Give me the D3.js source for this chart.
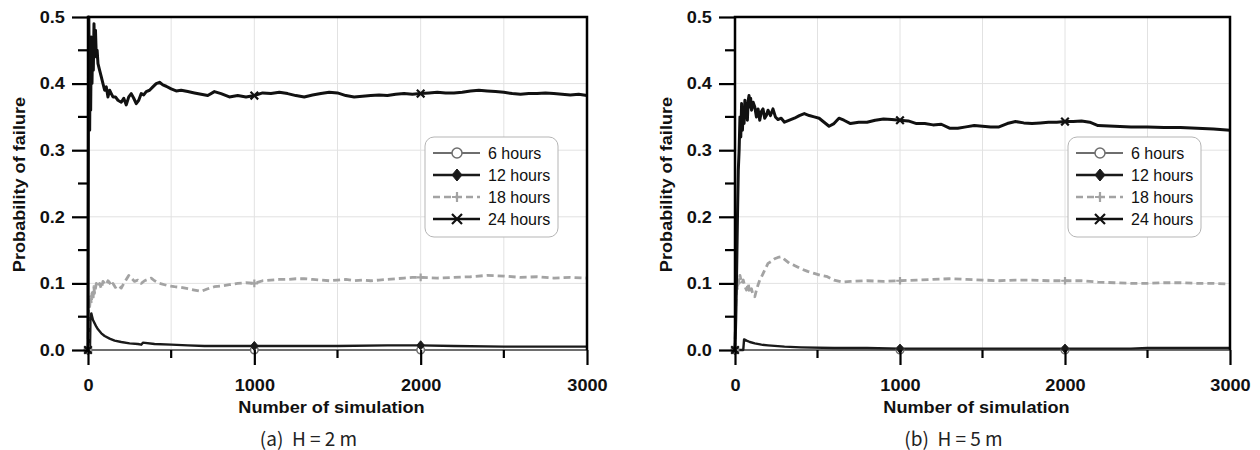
<!DOCTYPE html>
<html><head><meta charset="utf-8">
<script src="https://cdn.jsdelivr.net/npm/d3@7/dist/d3.min.js"></script>
<style>
html,body{margin:0;padding:0;background:#fff;}
svg{display:block;}
</style></head>
<body>
<svg id="chart" width="1260" height="450"></svg>
<script>
// ---------- DATA ----------
const xTicks = [0, 1000, 2000, 3000];
const xMinorTicks = [500, 1500, 2500];
const yTicks = [0, 0.1, 0.2, 0.3, 0.4, 0.5];
const yMinorTicks = [0.05, 0.15, 0.25, 0.35, 0.45];
const markerSims = [0, 1000, 2000];
const seriesNames = ["6 hours", "12 hours", "18 hours", "24 hours"];
const captions = ["(a)  H = 2 m", "(b)  H = 5 m"];

// Panel (a) H = 2 m : [simulation number, probability of failure]
const a6h = [[0,0],[1000,0],[2000,0],[3000,0]];
const a12h = [[0,0],[12,0],[15,0.05],[20,0.055],[25,0.05],[30,0.045],[40,0.04],[50,0.035],[60,0.031],[80,0.025],[100,0.021],[130,0.017],[160,0.014],[200,0.012],[250,0.01],[300,0.009],[320,0.008],[330,0.011],[400,0.009],[500,0.008],[600,0.007],[700,0.006],[800,0.006],[1000,0.006],[1200,0.006],[1500,0.006],[1800,0.007],[2000,0.007],[2200,0.006],[2500,0.005],[2800,0.005],[3000,0.005]];
const a18h = [[0,0],[3,0.05],[5,0.075],[10,0.065],[15,0.08],[20,0.07],[25,0.09],[30,0.075],[35,0.095],[40,0.085],[50,0.1],[60,0.095],[70,0.1],[80,0.092],[90,0.103],[100,0.1],[110,0.098],[120,0.104],[130,0.101],[140,0.096],[150,0.1],[165,0.094],[180,0.097],[200,0.093],[215,0.1],[230,0.106],[245,0.112],[260,0.108],[280,0.103],[300,0.105],[320,0.1],[340,0.104],[360,0.106],[380,0.108],[400,0.104],[430,0.1],[460,0.098],[490,0.096],[520,0.095],[560,0.094],[600,0.092],[640,0.09],[680,0.088],[720,0.092],[760,0.095],[800,0.096],[850,0.098],[900,0.1],[950,0.101],[1000,0.1],[1050,0.104],[1100,0.105],[1150,0.106],[1200,0.106],[1250,0.107],[1300,0.107],[1350,0.106],[1400,0.105],[1450,0.104],[1500,0.105],[1550,0.106],[1600,0.104],[1650,0.105],[1700,0.104],[1750,0.105],[1800,0.106],[1850,0.107],[1900,0.108],[1950,0.109],[2000,0.109],[2100,0.108],[2200,0.109],[2300,0.11],[2400,0.112],[2500,0.111],[2600,0.109],[2700,0.11],[2800,0.108],[2900,0.109],[3000,0.108]];
const a24h = [[0,0],[2,0.27],[3,0.42],[5,0.5],[8,0.4],[10,0.33],[13,0.45],[16,0.36],[20,0.47],[24,0.4],[28,0.46],[32,0.42],[36,0.49],[40,0.45],[45,0.48],[50,0.44],[55,0.45],[60,0.43],[70,0.42],[80,0.41],[90,0.4],[100,0.39],[110,0.395],[120,0.38],[130,0.39],[140,0.385],[150,0.38],[165,0.38],[180,0.375],[200,0.372],[215,0.378],[230,0.368],[245,0.38],[260,0.385],[275,0.378],[290,0.37],[305,0.375],[320,0.385],[335,0.383],[350,0.388],[370,0.39],[390,0.395],[410,0.4],[430,0.402],[450,0.398],[470,0.396],[500,0.392],[530,0.389],[560,0.39],[600,0.388],[640,0.386],[680,0.384],[720,0.382],[760,0.388],[800,0.385],[850,0.38],[900,0.382],[950,0.38],[1000,0.382],[1050,0.386],[1100,0.385],[1150,0.387],[1200,0.385],[1250,0.382],[1300,0.38],[1350,0.383],[1400,0.385],[1450,0.387],[1500,0.386],[1550,0.382],[1600,0.38],[1650,0.381],[1700,0.382],[1750,0.383],[1800,0.382],[1850,0.384],[1900,0.385],[1950,0.384],[2000,0.385],[2050,0.386],[2100,0.387],[2150,0.386],[2200,0.386],[2250,0.387],[2300,0.389],[2350,0.39],[2400,0.389],[2450,0.388],[2500,0.387],[2550,0.385],[2600,0.384],[2650,0.385],[2700,0.385],[2750,0.386],[2800,0.385],[2850,0.384],[2900,0.383],[2950,0.384],[3000,0.382]];

// Panel (b) H = 5 m
const b6h = [[0,0],[1000,0],[2000,0],[3000,0]];
const b12h = [[0,0],[50,0],[55,0.016],[70,0.014],[90,0.012],[120,0.01],[160,0.008],[200,0.007],[300,0.005],[400,0.004],[600,0.003],[800,0.003],[1000,0.002],[1500,0.002],[2000,0.002],[2400,0.002],[2500,0.003],[3000,0.003]];
const b18h = [[0,0],[3,0.045],[5,0.07],[10,0.1],[15,0.09],[20,0.11],[25,0.1],[30,0.112],[40,0.1],[50,0.105],[60,0.095],[70,0.09],[80,0.1],[90,0.085],[100,0.092],[110,0.082],[120,0.08],[130,0.09],[140,0.098],[150,0.105],[165,0.112],[180,0.12],[200,0.13],[220,0.133],[240,0.137],[260,0.139],[280,0.14],[300,0.136],[330,0.13],[360,0.127],[400,0.122],[440,0.118],[480,0.115],[520,0.112],[560,0.11],[600,0.105],[650,0.102],[700,0.103],[800,0.104],[900,0.103],[1000,0.104],[1100,0.105],[1200,0.106],[1300,0.107],[1400,0.106],[1500,0.105],[1600,0.104],[1700,0.105],[1800,0.105],[1900,0.104],[2000,0.104],[2100,0.104],[2200,0.102],[2300,0.101],[2400,0.1],[2500,0.1],[2600,0.101],[2700,0.101],[2800,0.1],[2900,0.1],[3000,0.099]];
const b24h = [[0,0],[5,0.05],[10,0.12],[15,0.2],[20,0.27],[25,0.3],[30,0.35],[35,0.32],[40,0.37],[45,0.33],[50,0.36],[55,0.34],[60,0.375],[65,0.35],[70,0.37],[75,0.345],[80,0.375],[85,0.382],[90,0.365],[95,0.378],[100,0.36],[110,0.372],[120,0.365],[130,0.35],[140,0.362],[150,0.345],[160,0.358],[170,0.362],[180,0.348],[190,0.352],[200,0.36],[215,0.352],[230,0.362],[245,0.35],[260,0.346],[280,0.348],[300,0.342],[330,0.345],[360,0.348],[390,0.352],[420,0.355],[450,0.352],[480,0.35],[510,0.348],[540,0.342],[570,0.336],[600,0.34],[630,0.348],[660,0.345],[700,0.34],[750,0.342],[800,0.342],[850,0.345],[900,0.347],[950,0.346],[1000,0.345],[1050,0.344],[1100,0.34],[1150,0.34],[1200,0.338],[1250,0.339],[1300,0.333],[1350,0.333],[1400,0.335],[1450,0.337],[1500,0.336],[1550,0.335],[1600,0.335],[1650,0.34],[1700,0.343],[1750,0.341],[1800,0.34],[1850,0.341],[1900,0.342],[1950,0.342],[2000,0.343],[2050,0.343],[2100,0.344],[2150,0.342],[2200,0.337],[2300,0.336],[2400,0.335],[2500,0.335],[2600,0.334],[2700,0.334],[2800,0.333],[2900,0.332],[3000,0.33]];

// ---------- DRAW ----------
const svg = d3.select("#chart");
const BOLD = "'Liberation Sans', Arial, Helvetica, sans-serif";
const FS = 16.5;  // bold label size
const SX = 1.1;   // horizontal stretch of bold labels

const styles = [
  {stroke:"#6e6e6e", width:2,   dash:null,  marker:"circle"},
  {stroke:"#1a1a1a", width:2.4, dash:null,  marker:"diamond"},
  {stroke:"#a3a3a3", width:2.8, dash:"7,4", marker:"plus"},
  {stroke:"#111111", width:3,   dash:null,  marker:"cross"}
];

function drawMarker(g, type, cx, cy, s, color) {
  if (type === "circle") {
    g.append("circle").attr("cx", cx).attr("cy", cy).attr("r", s)
      .attr("fill", "#fff").attr("stroke", color).attr("stroke-width", 1.5);
  } else if (type === "diamond") {
    g.append("path").attr("d", `M${cx},${cy-s*1.2}L${cx+s},${cy}L${cx},${cy+s*1.2}L${cx-s},${cy}Z`)
      .attr("fill", color).attr("stroke", color).attr("stroke-width", 1);
  } else if (type === "plus") {
    g.append("path").attr("d", `M${cx-s},${cy}H${cx+s}M${cx},${cy-s}V${cy+s}`)
      .attr("stroke", color).attr("stroke-width", 2.2).attr("fill", "none");
  } else if (type === "cross") {
    g.append("path").attr("d", `M${cx-s},${cy-s}L${cx+s},${cy+s}M${cx-s},${cy+s}L${cx+s},${cy-s}`)
      .attr("stroke", color).attr("stroke-width", 2.2).attr("fill", "none");
  }
}

const panels = [
  {x0:88,  x1:587,  data:[a6h,a12h,a18h,a24h], caption:captions[0]},
  {x0:735, x1:1230, data:[b6h,b12h,b18h,b24h], caption:captions[1]}
];
const plotTop = 17, plotBottom = 350;

panels.forEach(p => {
  const x = d3.scaleLinear().domain([0, 3000]).range([p.x0, p.x1]);
  const y = d3.scaleLinear().domain([0, 0.5]).range([plotBottom, plotTop]);
  const g = svg.append("g");

  // grid
  g.append("g").selectAll("line").data([500,1000,1500,2000,2500]).join("line")
    .attr("x1", d => x(d)).attr("x2", d => x(d)).attr("y1", plotTop).attr("y2", plotBottom)
    .attr("stroke", "#e2e2e2").attr("stroke-width", 1);
  g.append("g").selectAll("line").data([0.1,0.2,0.3,0.4]).join("line")
    .attr("x1", p.x0).attr("x2", p.x1).attr("y1", d => y(d)).attr("y2", d => y(d))
    .attr("stroke", "#e2e2e2").attr("stroke-width", 1);

  // bottom axis baseline
  g.append("line").attr("x1", p.x0).attr("x2", p.x1).attr("y1", plotBottom).attr("y2", plotBottom)
    .attr("stroke", "#444").attr("stroke-width", 1.5);

  // series
  const line = d3.line().x(d => x(d[0])).y(d => y(d[1]));
  p.data.forEach((ser, i) => {
    const st = styles[i];
    g.append("path").datum(ser).attr("d", line)
      .attr("fill", "none").attr("stroke", st.stroke).attr("stroke-width", st.width)
      .attr("stroke-linejoin", "round")
      .attr("stroke-dasharray", st.dash);
  });
  p.data.forEach((ser, i) => {
    const st = styles[i];
    markerSims.forEach(m => {
      const pt = ser.find(d => d[0] === m);
      if (pt) drawMarker(g, st.marker, x(pt[0]), y(pt[1]), 3.8, st.stroke);
    });
  });

  // frame: left, top, right
  g.append("path").attr("d", `M${p.x0},${plotBottom}V${plotTop}H${p.x1}V${plotBottom}`)
    .attr("fill", "none").attr("stroke", "#000").attr("stroke-width", 2.5);

  // x axis
  const xa = g.append("g").attr("transform", `translate(0,${plotBottom})`)
    .call(d3.axisBottom(x).tickValues(xTicks).tickSize(15).tickPadding(14).tickFormat(d3.format("d")));
  xa.select(".domain").remove();
  xa.selectAll(".tick line").attr("stroke", "#000").attr("stroke-width", 2.2);
  xa.selectAll("text").attr("font-family", BOLD).attr("font-weight", "bold")
    .attr("font-size", FS).attr("fill", "#111").attr("transform", `scale(${SX},1)`);
  g.append("g").selectAll("line").data(xMinorTicks).join("line")
    .attr("x1", d => x(d)).attr("x2", d => x(d)).attr("y1", plotBottom).attr("y2", plotBottom + 8)
    .attr("stroke", "#000").attr("stroke-width", 2.2);

  // y axis
  const ya = g.append("g").attr("transform", `translate(${p.x0},0)`)
    .call(d3.axisLeft(y).tickValues(yTicks).tickSize(16).tickPadding(5).tickFormat(d3.format(".1f")));
  ya.select(".domain").remove();
  ya.selectAll(".tick line").attr("stroke", "#000").attr("stroke-width", 2.2);
  ya.selectAll("text").attr("font-family", BOLD).attr("font-weight", "bold")
    .attr("font-size", FS).attr("fill", "#111").attr("transform", `scale(${SX},1)`);
  g.append("g").selectAll("line").data(yMinorTicks).join("line")
    .attr("x1", p.x0 - 10).attr("x2", p.x0).attr("y1", d => y(d)).attr("y2", d => y(d))
    .attr("stroke", "#000").attr("stroke-width", 2.2);

  // axis titles
  const cx = (p.x0 + p.x1) / 2;
  g.append("text").attr("transform", `translate(${cx - 6},413) scale(${SX},1)`)
    .attr("text-anchor", "middle").attr("font-family", BOLD).attr("font-weight", "bold")
    .attr("font-size", FS).attr("fill", "#111").text("Number of simulation");
  g.append("text").attr("transform", `translate(${p.x0 - 63},${(plotTop + plotBottom) / 2 + 1}) rotate(-90) scale(${SX},1)`)
    .attr("text-anchor", "middle").attr("font-family", BOLD).attr("font-weight", "bold")
    .attr("font-size", FS).attr("fill", "#111").text("Probability of failure");

  // caption
  g.append("text").attr("x", cx - 29).attr("y", 446).attr("text-anchor", "middle")
    .attr("font-family", "'Noto Sans CJK KR', 'Noto Sans', sans-serif").attr("font-size", 19)
    .attr("fill", "#222").style("white-space", "pre").text(p.caption);

  // legend
  const lx = p.x1 - 162, ly = 137;
  const lg = g.append("g").attr("transform", `translate(${lx},${ly})`);
  lg.append("rect").attr("width", 133).attr("height", 100).attr("rx", 9).attr("ry", 9)
    .attr("fill", "#fff").attr("stroke", "#b5b5b5").attr("stroke-width", 1);
  seriesNames.forEach((name, i) => {
    const st = styles[i];
    const ry = 16 + i * 22;
    lg.append("line").attr("x1", 8).attr("x2", 55).attr("y1", ry).attr("y2", ry)
      .attr("stroke", st.stroke).attr("stroke-width", Math.min(st.width, 2.6)).attr("stroke-dasharray", st.dash);
    drawMarker(lg, st.marker, 32, ry, 5, st.stroke);
    lg.append("text").attr("x", 63).attr("y", ry + 6)
      .attr("font-family", "'Liberation Sans', Arial, sans-serif").attr("font-size", 16)
      .attr("fill", "#111").text(name);
  });
});
</script>
</body></html>
